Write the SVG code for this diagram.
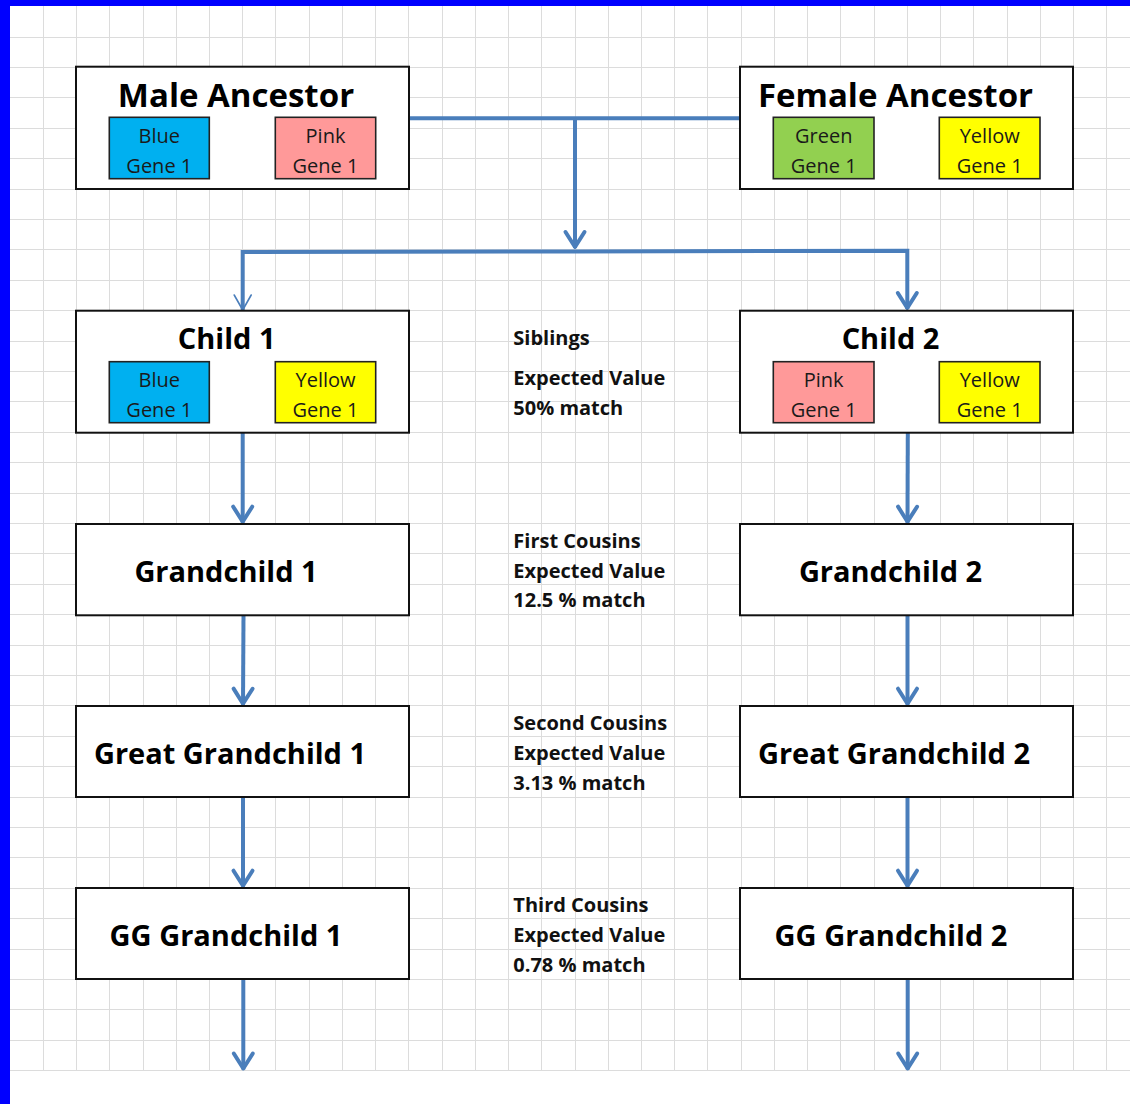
<svg xmlns="http://www.w3.org/2000/svg" width="1130" height="1104" viewBox="0 0 1130 1104">
<style>
.grid{stroke:#dcdcdc;stroke-width:1;fill:none}
.box{fill:#ffffff;stroke:#111111;stroke-width:2}
.gene{stroke:#222222;stroke-width:1.6}
.title{font-family:"Open Sans","Liberation Sans",sans-serif;font-weight:bold;fill:#000000;text-anchor:middle}
.big{font-size:33px}
.mid{font-size:29px}
.gt{font-family:"Open Sans","Liberation Sans",sans-serif;font-size:20px;fill:#1a1a1a;text-anchor:middle}
.note{font-family:"Open Sans","Liberation Sans",sans-serif;font-size:20px;font-weight:bold;fill:#111111}
.conn{stroke:#4A7EBB;stroke-width:4;fill:none}
</style>
<defs>
<marker id="arrow" markerUnits="userSpaceOnUse" markerWidth="40" markerHeight="40" viewBox="-30 -20 40 40" refX="0" refY="0" orient="auto" overflow="visible">
<path d="M-16,-9.5 L-1,0 L-16,9.5" fill="none" stroke="#4A7EBB" stroke-width="4" stroke-linecap="round" stroke-linejoin="round"/>
</marker>
<marker id="arrowThin" markerUnits="userSpaceOnUse" markerWidth="40" markerHeight="40" viewBox="-30 -20 40 40" refX="0" refY="0" orient="auto" overflow="visible">
<path d="M-15,-8.5 L0,0 L-15,8.5" fill="none" stroke="#4A7EBB" stroke-width="1.6" stroke-linecap="round" stroke-linejoin="round"/>
</marker>
</defs>
<rect x="0" y="0" width="1130" height="1104" fill="#ffffff"/>
<g id="grid" class="grid" shape-rendering="crispEdges">
<path d="M43.3,6V1071M76.5,6V1071M109.8,6V1071M143,6V1071M176.2,6V1071M209.5,6V1071M242.7,6V1071M275.9,6V1071M309.1,6V1071M342.4,6V1071M375.6,6V1071M408.8,6V1071M442.1,6V1071M475.3,6V1071M508.5,6V1071M541.8,6V1071M575,6V1071M608.2,6V1071M641.4,6V1071M674.7,6V1071M707.9,6V1071M741.1,6V1071M774.4,6V1071M807.6,6V1071M840.8,6V1071M874.1,6V1071M907.3,6V1071M940.5,6V1071M973.7,6V1071M1007,6V1071M1040.2,6V1071M1073.4,6V1071M1106.7,6V1071"/>
<path d="M10,1070.7H1130M10,1040.3H1130M10,1009.9H1130M10,979.5H1130M10,949.1H1130M10,918.7H1130M10,888.3H1130M10,857.9H1130M10,827.5H1130M10,797.1H1130M10,766.7H1130M10,736.3H1130M10,705.9H1130M10,675.5H1130M10,645.1H1130M10,614.7H1130M10,584.3H1130M10,553.9H1130M10,523.5H1130M10,493.1H1130M10,462.7H1130M10,432.3H1130M10,401.9H1130M10,371.5H1130M10,341.1H1130M10,310.7H1130M10,280.3H1130M10,249.9H1130M10,219.5H1130M10,189.1H1130M10,158.7H1130M10,128.3H1130M10,97.9H1130M10,67.5H1130M10,37.1H1130"/>
</g>
<g id="frame" fill="#0000FF">
<rect x="0" y="0" width="1130" height="6"/>
<rect x="0" y="0" width="10" height="1104"/>
</g>
<g id="connectors">
<path class="conn" d="M409,118.3H740"/>
<path class="conn" d="M575,118.3V248" marker-end="url(#arrow)"/>
<path class="conn" d="M575,251.5L242.7,252V310" marker-end="url(#arrowThin)"/>
<path class="conn" d="M575,251.5L907.3,250.7V309" marker-end="url(#arrow)"/>
<path class="conn" d="M242.7,432.7V522.7" marker-end="url(#arrow)"/>
<path class="conn" d="M907.8,432.7L907.5,522.7" marker-end="url(#arrow)"/>
<path class="conn" d="M243.5,615.3L243,704.7" marker-end="url(#arrow)"/>
<path class="conn" d="M907.5,615.3V704.7" marker-end="url(#arrow)"/>
<path class="conn" d="M243,797V886.7" marker-end="url(#arrow)"/>
<path class="conn" d="M907.5,797V886.7" marker-end="url(#arrow)"/>
<path class="conn" d="M243.3,979V1069.5" marker-end="url(#arrow)"/>
<path class="conn" d="M907.7,979V1069.5" marker-end="url(#arrow)"/>
</g>
<g id="male-ancestor">
<rect class="box" x="76" y="66.7" width="333" height="122.3"/>
<text class="title big" x="236" y="107.3">Male Ancestor</text>
<rect class="gene" x="109.3" y="117.3" width="100" height="61.4" fill="#00B0F0"/>
<text class="gt" x="159.3" y="142.7">Blue</text>
<text class="gt" x="159.3" y="172.7">Gene 1</text>
<rect class="gene" x="275.3" y="117.3" width="100.4" height="61.4" fill="#FF9999"/>
<text class="gt" x="325.5" y="142.7">Pink</text>
<text class="gt" x="325.5" y="172.7">Gene 1</text>
</g>
<g id="female-ancestor">
<rect class="box" x="740" y="66.7" width="333" height="122.3"/>
<text class="title big" x="895.5" y="106.7">Female Ancestor</text>
<rect class="gene" x="773.3" y="117.3" width="100.7" height="61.4" fill="#92D050"/>
<text class="gt" x="823.7" y="142.7">Green</text>
<text class="gt" x="823.7" y="172.7">Gene 1</text>
<rect class="gene" x="939.3" y="117.3" width="100.7" height="61.4" fill="#FFFF00"/>
<text class="gt" x="989.7" y="142.7">Yellow</text>
<text class="gt" x="989.7" y="172.7">Gene 1</text>
</g>
<g id="child-1">
<rect class="box" x="76" y="310.7" width="333" height="122"/>
<text class="title mid" x="226.7" y="349.3">Child 1</text>
<rect class="gene" x="109.3" y="361.7" width="100" height="61" fill="#00B0F0"/>
<text class="gt" x="159.3" y="386.7">Blue</text>
<text class="gt" x="159.3" y="416.7">Gene 1</text>
<rect class="gene" x="275.3" y="361.7" width="100.4" height="61" fill="#FFFF00"/>
<text class="gt" x="325.5" y="386.7">Yellow</text>
<text class="gt" x="325.5" y="416.7">Gene 1</text>
</g>
<g id="child-2">
<rect class="box" x="740" y="310.7" width="333" height="122"/>
<text class="title mid" x="890.5" y="349.3">Child 2</text>
<rect class="gene" x="773.3" y="361.7" width="100.7" height="61" fill="#FF9999"/>
<text class="gt" x="823.7" y="386.7">Pink</text>
<text class="gt" x="823.7" y="416.7">Gene 1</text>
<rect class="gene" x="939.3" y="361.7" width="100.7" height="61" fill="#FFFF00"/>
<text class="gt" x="989.7" y="386.7">Yellow</text>
<text class="gt" x="989.7" y="416.7">Gene 1</text>
</g>
<g id="grandchild-1">
<rect class="box" x="76" y="524" width="333" height="91.3"/>
<text class="title mid" x="226" y="582.3">Grandchild 1</text>
</g>
<g id="grandchild-2">
<rect class="box" x="740" y="524" width="333" height="91.3"/>
<text class="title mid" x="890.5" y="582.3">Grandchild 2</text>
</g>
<g id="great-grandchild-1">
<rect class="box" x="76" y="706" width="333" height="91"/>
<text class="title mid" x="230" y="764.3">Great Grandchild 1</text>
</g>
<g id="great-grandchild-2">
<rect class="box" x="740" y="706" width="333" height="91"/>
<text class="title mid" x="894" y="764.3">Great Grandchild 2</text>
</g>
<g id="gg-grandchild-1">
<rect class="box" x="76" y="888" width="333" height="91"/>
<text class="title mid" x="226" y="946.3">GG Grandchild 1</text>
</g>
<g id="gg-grandchild-2">
<rect class="box" x="740" y="888" width="333" height="91"/>
<text class="title mid" x="891" y="946.3">GG Grandchild 2</text>
</g>
<g id="relationship-notes">
<text class="note" x="513.3" y="345">Siblings</text>
<text class="note" x="513.3" y="385">Expected Value</text>
<text class="note" x="513.3" y="414.5">50% match</text>
<text class="note" x="513.3" y="547.5">First Cousins</text>
<text class="note" x="513.3" y="577.5">Expected Value</text>
<text class="note" x="513.3" y="607">12.5 % match</text>
<text class="note" x="513.3" y="730">Second Cousins</text>
<text class="note" x="513.3" y="760">Expected Value</text>
<text class="note" x="513.3" y="789.5">3.13 % match</text>
<text class="note" x="513.3" y="912">Third Cousins</text>
<text class="note" x="513.3" y="942">Expected Value</text>
<text class="note" x="513.3" y="971.5">0.78 % match</text>
</g>
</svg>
